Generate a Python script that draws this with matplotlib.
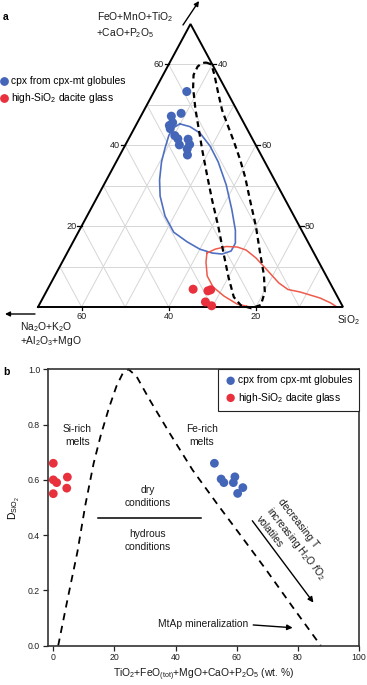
import numpy as np
import matplotlib
matplotlib.use("Agg")
import matplotlib.pyplot as plt
from matplotlib.lines import Line2D

plt.rcParams['font.family'] = ['Liberation Sans', 'DejaVu Sans']
plt.rcParams['mathtext.fontset'] = 'custom'
plt.rcParams['mathtext.rm'] = 'Liberation Sans'
plt.rcParams['mathtext.it'] = 'Liberation Sans:italic'
plt.rcParams['mathtext.bf'] = 'Liberation Sans:bold'

# ---- panel a: ternary (SiO2, FeO+... ; third = Na2O+K2O+Al2O3+MgO) ----
cpx_si = [37.5, 38.9, 37.0, 38.1, 37.7, 38.3, 40.2, 41.3, 42.4, 43.7, 44.7, 44.7, 45.5]
cpx_fe = [53.3, 47.9, 47.2, 45.6, 44.9, 44.1, 42.4, 41.6, 40.1, 41.5, 40.2, 39.1, 37.6]
glass_si = [63.4, 67.0, 67.5, 67.8, 69.7]
glass_fe = [4.4, 4.0, 4.25, 1.25, 0.3]

blue_field_si = [39.9, 42.6, 45.7, 49.6, 53.4, 58.1, 62.5, 65.8, 67.4, 67.4, 65.7, 63.3,
                 60.0, 56.2, 51.9, 47.9, 44.3, 42.2, 40.4, 39.5, 38.8, 39.0, 39.9]
blue_field_fe = [45.3, 44.6, 43.0, 39.8, 35.9, 30.2, 24.0, 19.0, 15.8, 13.85, 13.1, 13.35,
                 14.3, 16.1, 18.5, 22.5, 27.45, 31.4, 35.9, 39.3, 42.5, 44.4, 45.3]
red_field_si = [62.1, 63.5, 65.7, 68.3, 70.7, 74.0, 78.0, 82.3, 85.2, 88.3, 93.6, 96.7,
                98.6, 95.9, 87.8, 78.7, 75.3, 71.3, 67.7, 65.0, 63.0, 62.1]
red_field_fe = [13.35, 14.3, 14.96, 14.84, 14.1, 12.1, 9.15, 5.94, 4.33, 3.71, 2.23, 0.99,
                0.0, 0.0, 0.0, 0.0, 0.74, 2.72, 4.95, 7.67, 11.1, 13.35]
dash_field_si = [38.3, 39.8, 41.8, 44.7, 47.9, 51.2, 54.6, 58.2, 61.5, 65.4, 70.0, 74.3,
                 77.9, 80.2, 80.9, 79.1, 76.4, 73.7, 70.0, 65.9, 61.5, 56.7, 52.3, 48.3,
                 44.7, 41.5, 38.5, 37.0, 36.9, 37.5, 38.3]
dash_field_fe = [60.5, 60.0, 57.4, 53.2, 48.7, 44.8, 40.8, 36.4, 32.1, 26.5, 20.0, 13.35,
                 7.9, 3.7, 0.5, -0.3, 0.37, 2.47, 7.42, 13.35, 19.8, 26.5, 32.9, 38.8,
                 44.3, 49.2, 54.2, 57.4, 59.5, 60.3, 60.5]

tick_vals = [20, 40, 60]
tick_si = [40, 60, 80]

# ---- panel b ----
cpx_x = [52.7, 54.9, 55.8, 59.4, 58.9, 60.3, 62.0]
cpx_d = [0.66, 0.603, 0.59, 0.611, 0.59, 0.551, 0.572]
glass_x = [0.0, 0.0, 1.1, 4.6, 4.4, 0.0]
glass_d = [0.66, 0.60, 0.59, 0.61, 0.57, 0.55]
curve_x = [1.6, 4.7, 7.9, 10.5, 13.2, 15.5, 18.2, 20.7, 22.7, 24.6, 27.2, 31.5, 38.0,
           45.6, 53.8, 60.9, 69.6, 78.3, 87.5]
curve_d = [0.0, 0.17, 0.34, 0.51, 0.66, 0.76, 0.86, 0.94, 0.985, 1.0, 0.975, 0.89, 0.77,
           0.635, 0.51, 0.405, 0.275, 0.14, 0.0]

blue = '#4466b8'
red = '#e8313d'
W, H = 367, 685


def tern(si, fe):
    si = np.asarray(si, float)
    fe = np.asarray(fe, float)
    return si + fe / 2, fe


fig = plt.figure(figsize=(W / 100, H / 100), dpi=100)

axa = fig.add_axes([38 / W, 1 - 307 / H, 305 / W, 283 / H])
axa.set_xlim(30, 100)
axa.set_ylim(0, 70)
axa.axis('off')

# grid
gk = dict(color='#d6d6d6', lw=0.7, zorder=0)
for v in range(10, 70, 10):
    axa.plot(*tern([30, 100 - v], [v, v]), **gk)
    axa.plot(*tern([30 + v, 30 + v], [0, 70 - v]), **gk)
    axa.plot(*tern([100 - v, 30], [0, 70 - v]), **gk)

axa.plot(*tern([30, 100, 30, 30], [0, 0, 70, 0]), color='k', lw=1.4, zorder=4,
         clip_on=False, solid_joinstyle='miter')

axa.plot(*tern(blue_field_si, blue_field_fe), color='#4f6fc1', lw=1.2, zorder=2)
axa.plot(*tern(red_field_si, red_field_fe), color='#ef5b4b', lw=1.1, zorder=2)
axa.plot(*tern(dash_field_si, dash_field_fe), color='k', lw=1.6, dashes=(2.6, 1.8),
         zorder=3, clip_on=False)

axa.scatter(*tern(cpx_si, cpx_fe), s=42, color=blue, edgecolors='none', zorder=5)
axa.scatter(*tern(glass_si, glass_fe), s=42, color=red, edgecolors='none', zorder=5,
            clip_on=False)

# ternary ticks
for v in tick_vals:
    x, y = tern([30], [v])
    axa.plot([x[0] - 0.95, x[0]], [y[0], y[0]], color='k', lw=0.9, clip_on=False)
    axa.text(x[0] - 1.2, y[0], str(v), ha='right', va='center', fontsize=6.6, color='#222')
    x, y = tern([100 - v], [0])
    axa.plot([x[0], x[0]], [0, -0.8], color='k', lw=0.9, clip_on=False)
    axa.text(x[0], -1.2, str(v), ha='center', va='top', fontsize=6.6, color='#222')
for s in tick_si:
    x, y = tern([s], [100 - s])
    axa.plot([x[0], x[0] + 0.95], [y[0], y[0]], color='k', lw=0.9, clip_on=False)
    axa.text(x[0] + 1.2, y[0], str(s), ha='left', va='center', fontsize=6.6, color='#222')

lab = dict(fontsize=7.4, color='#1a1a1a')
fig.text(97 / W, 1 - 17 / H, 'FeO+MnO+TiO$_2$', ha='left', va='center', **lab)
fig.text(96 / W, 1 - 33 / H, '+CaO+P$_2$O$_5$', ha='left', va='center', **lab)
fig.text(20 / W, 1 - 327 / H, 'Na$_2$O+K$_2$O', ha='left', va='center', **lab)
fig.text(20 / W, 1 - 341 / H, '+Al$_2$O$_3$+MgO', ha='left', va='center', **lab)
fig.text(337 / W, 1 - 320 / H, 'SiO$_2$', ha='left', va='center', **lab)
fig.text(3 / W, 1 - 17 / H, 'a', ha='left', va='center', fontsize=7.5, weight='bold')
fig.text(3 / W, 1 - 372 / H, 'b', ha='left', va='center', fontsize=7.5, weight='bold')

ap = dict(arrowstyle='-|>', color='k', lw=1.0, mutation_scale=7, shrinkA=0, shrinkB=0)
fig.add_artist(matplotlib.patches.FancyArrowPatch((183 / W, 1 - 25 / H), (199 / W, 1 - 1 / H),
                                                  transform=fig.transFigure, **ap))
fig.add_artist(matplotlib.patches.FancyArrowPatch((35 / W, 1 - 314 / H), (5 / W, 1 - 314 / H),
                                                  transform=fig.transFigure, **ap))

handles = [Line2D([], [], marker='o', ls='none', color=blue, markersize=5.3),
           Line2D([], [], marker='o', ls='none', color=red, markersize=5.3)]
labels = ['cpx from cpx-mt globules', 'high-SiO$_2$ dacite glass']
fig.legend(handles, labels, loc='upper left', bbox_to_anchor=(1.4 / W, 1 - 76.5 / H),
           frameon=False, borderpad=0, borderaxespad=0, handlelength=0.5,
           handletextpad=0.45, labelspacing=0.45, fontsize=7.4)

# ---- panel b ----
axb = fig.add_axes([47.7 / W, 1 - 645.7 / H, (359 - 47.7) / W, (645.7 - 369.3) / H])
axb.set_xlim(-1.83, 100)
axb.set_ylim(0, 1.0)
for sp in axb.spines.values():
    sp.set_linewidth(1.2)
    sp.set_color('#333')
axb.set_xticks(range(0, 101, 20))
axb.set_yticks([0, 0.2, 0.4, 0.6, 0.8, 1.0])
axb.set_yticklabels(['0.0', '0.2', '0.4', '0.6', '0.8', '1.0'])
axb.tick_params(labelsize=6.3, length=3.5, width=0.9, pad=2, colors='#222')

axb.plot(curve_x, curve_d, color='k', lw=1.3, dashes=(4, 3.2), clip_on=False)
axb.scatter(cpx_x, cpx_d, s=40, color=blue, edgecolors='none', zorder=5,
            label='cpx from cpx-mt globules')
axb.scatter(glass_x, glass_d, s=40, color=red, edgecolors='none', zorder=5, clip_on=False,
            label='high-SiO$_2$ dacite glass')

tk = dict(fontsize=7.4, color='#1a1a1a', ha='center', va='center', linespacing=1.35)
axb.text(7.85, 0.76, 'Si-rich\nmelts', **tk)
axb.text(48.6, 0.76, 'Fe-rich\nmelts', **tk)
axb.text(30.9, 0.54, 'dry\nconditions', **tk)
axb.text(30.9, 0.38, 'hydrous\nconditions', **tk)
axb.plot([14.7, 48.3], [0.461, 0.461], color='k', lw=1.1)
axb.text(49.0, 0.077, 'MtAp mineralization', **tk)
axb.annotate('', xy=(78.3, 0.065), xytext=(65.4, 0.075),
             arrowprops=dict(arrowstyle='-|>', color='k', lw=1.0, mutation_scale=8,
                             shrinkA=0, shrinkB=0))
axb.annotate('', xy=(85.1, 0.156), xytext=(65.1, 0.452),
             arrowprops=dict(arrowstyle='-|>', color='k', lw=1.0, mutation_scale=8,
                             shrinkA=0, shrinkB=0))
axb.text(75.4, 0.538, 'decreasing T\nincreasing H$_2$O $f$O$_2$\nvolatiles', rotation=-52,
         rotation_mode='anchor', ha='left', va='top', multialignment='left',
         fontsize=7.4, color='#1a1a1a', linespacing=1.2)

axb.legend(loc='upper right', borderaxespad=0, fancybox=False, edgecolor='#222',
           framealpha=1, fontsize=7.4, borderpad=0.6, handlelength=1.3,
           handletextpad=0.1, labelspacing=0.5, markerscale=0.95).get_frame().set_linewidth(0.8)

axb.set_ylabel(r'D$_{\mathrm{SiO_2}}$', fontsize=7.4, labelpad=4)
axb.set_xlabel(r'TiO$_2$+FeO$_{\mathrm{(tot)}}$+MgO+CaO+P$_2$O$_5$ (wt. %)',
               fontsize=7.4, color='#1a1a1a', labelpad=3)

fig.savefig('out.png', dpi=100)
